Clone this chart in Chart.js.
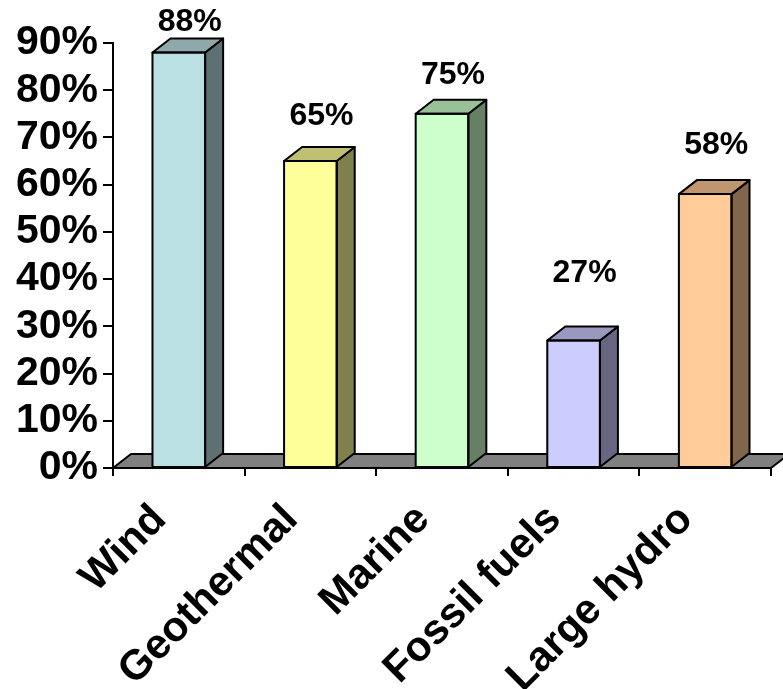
<!DOCTYPE html>
<html>
<head>
<meta charset="utf-8">
<script src="https://cdn.jsdelivr.net/npm/chart.js@4"></script>
<style>
  html, body { margin: 0; padding: 0; background: #fff; }
  canvas { display: block; }
</style>
</head>
<body>
<canvas id="myChart" width="783" height="689"></canvas>
<script>
// chart data
var categories = ['Wind', 'Geothermal', 'Marine', 'Fossil fuels', 'Large hydro'];
var shares = [88, 65, 75, 27, 58];
var yTicks = [0, 10, 20, 30, 40, 50, 60, 70, 80, 90];

// face colours: front, side, top
var frontColors = ['#BBE0E3', '#FFFF99', '#CCFFCC', '#CCCCFF', '#FFCC99'];
var sideColors = ['#5E7071', '#80804D', '#668066', '#666680', '#80664D'];
var topColors = ['#8FA8AA', '#C0C073', '#99C099', '#9999C0', '#C09671'];

var DX = 18, DY = -14; // 3D depth
var FONT = 'Liberation Sans, Arial, sans-serif';

function poly(ctx, pts, fill) {
  ctx.beginPath();
  ctx.moveTo(pts[0][0], pts[0][1]);
  for (var i = 1; i < pts.length; i++) ctx.lineTo(pts[i][0], pts[i][1]);
  ctx.closePath();
  ctx.fillStyle = fill;
  ctx.fill();
  ctx.lineWidth = 2;
  ctx.strokeStyle = '#000';
  ctx.lineJoin = 'round';
  ctx.stroke();
}

var bars3d = {
  id: 'bars3d',
  beforeDatasetsDraw: function (chart) {
    // grey floor
    var ctx = chart.ctx, x = chart.scales.x, y = chart.scales.y;
    var y0 = y.getPixelForValue(0);
    ctx.save();
    poly(ctx, [[x.left, y0], [x.left + DX, y0 + DY], [x.right + DX, y0 + DY], [x.right, y0]], '#808080');
    ctx.restore();
  },
  afterDatasetsDraw: function (chart) {
    var ctx = chart.ctx;
    var meta = chart.getDatasetMeta(0);
    ctx.save();
    meta.data.forEach(function (bar, i) {
      var p = bar.getProps(['x', 'y', 'base', 'width'], true);
      var l = p.x - p.width / 2, r = p.x + p.width / 2;
      // side face
      poly(ctx, [[r, p.y], [r + DX, p.y + DY], [r + DX, p.base + DY], [r, p.base]], sideColors[i]);
      // top face
      poly(ctx, [[l, p.y], [l + DX, p.y + DY], [r + DX, p.y + DY], [r, p.y]], topColors[i]);
      // front outline
      ctx.lineWidth = 2;
      ctx.strokeStyle = '#000';
      ctx.strokeRect(l, p.y, p.width, p.base - p.y);
      // value label floating above
      var ly = p.base - 84 - 0.872 * (p.base - p.y);
      ly = Math.max(ly, 22);
      ctx.fillStyle = '#000';
      ctx.font = 'bold 32px ' + FONT;
      ctx.textAlign = 'center';
      ctx.textBaseline = 'middle';
      ctx.fillText(shares[i] + '%', p.x + 11, ly);
    });
    ctx.restore();
  }
};

var ctx = document.getElementById('myChart').getContext('2d');
var myChart = new Chart(ctx, {
  type: 'bar',
  data: {
    labels: categories,
    datasets: [{
      data: shares,
      backgroundColor: frontColors,
      borderWidth: 0,
      barPercentage: 0.8,
      categoryPercentage: 0.5
    }]
  },
  options: {
    responsive: false,
    animation: false,
    devicePixelRatio: 1,
    layout: { padding: { top: 43, right: 12, left: 0, bottom: 0 } },
    plugins: {
      legend: { display: false },
      tooltip: { enabled: false }
    },
    scales: {
      x: {
        afterFit: function (s) { s.height = 221; },
        border: { display: true, color: '#000', width: 2 },
        grid: { display: true, drawOnChartArea: false, offset: true, color: '#000', lineWidth: 2, tickLength: 8 },
        ticks: {
          autoSkip: false,
          minRotation: 45,
          maxRotation: 45,
          padding: 19,
          labelOffset: -19,
          color: '#000',
          font: { family: FONT, size: 42, weight: 'bold' }
        }
      },
      y: {
        min: 0,
        max: 90,
        afterFit: function (s) { s.width = 113; },
        afterBuildTicks: function (s) {
          s.ticks = yTicks.map(function (v) { return { value: v }; });
        },
        border: { display: true, color: '#000', width: 2 },
        grid: { display: true, drawOnChartArea: false, color: '#000', lineWidth: 2, tickLength: 10 },
        ticks: {
          autoSkip: false,
          padding: 5,
          color: '#000',
          font: { family: FONT, size: 41, weight: 'bold' },
          callback: function (v) { return v + '%'; }
        }
      }
    }
  },
  plugins: [bars3d]
});
</script>
</body>
</html>
